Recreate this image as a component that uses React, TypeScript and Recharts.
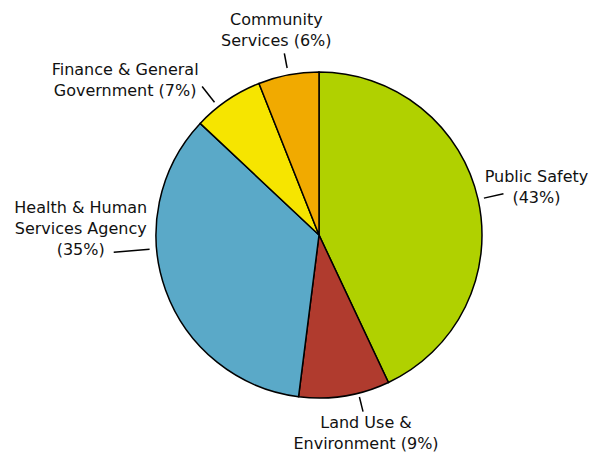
import React from "react"
import { PieChart, Pie, Cell } from "recharts"

const categories = [
  "Public Safety",
  "Land Use & Environment",
  "Health & Human Services Agency",
  "Finance & General Government",
  "Community Services",
]
const shares = [43, 9, 35, 7, 6]
const labelLines = [
  ["Public Safety", "(43%)"],
  ["Land Use &", "Environment (9%)"],
  ["Health & Human", "Services Agency", "(35%)"],
  ["Finance & General", "Government (7%)"],
  ["Community", "Services (6%)"],
]
const colors = ["#b0d100", "#b03b2e", "#5aa9c8", "#f6e500", "#f1aa00"]

// leader line: angle tweak from midAngle, inner/outer radius past the pie,
// then text offset from the outer end of the line
const labelLayout = [
  { da: 0, r1: 6, r2: 26, tx: 33, ty: -12 },
  { da: 5, r1: 4, r2: 19, tx: 3, ty: 16 },
  { da: -15, r1: 7, r2: 43, tx: -33, ty: -39 },
  { da: 4, r1: 6, r2: 26, tx: -77, ty: -11 },
  { da: 0, r1: 7, r2: 22, tx: -8, ty: -28 },
]

const data = categories.map((name, i) => ({ name, value: shares[i] }))

const RAD = Math.PI / 180

function renderLabel(props: any) {
  const { cx, cy, midAngle, outerRadius, index } = props
  const lay = labelLayout[index]
  const a = (midAngle + lay.da) * RAD
  const x1 = cx + Math.cos(-a) * (outerRadius + lay.r1)
  const y1 = cy + Math.sin(-a) * (outerRadius + lay.r1)
  const x2 = cx + Math.cos(-a) * (outerRadius + lay.r2)
  const y2 = cy + Math.sin(-a) * (outerRadius + lay.r2)
  const tx = x2 + lay.tx
  const ty = y2 + lay.ty
  return (
    <g key={`lbl-${index}`}>
      <line x1={x1} y1={y1} x2={x2} y2={y2} stroke="#000" strokeWidth={1.5} />
      <text
        x={tx}
        y={ty}
        textAnchor="middle"
        fill="#111"
        fontSize={16}
        fontFamily="DejaVu Sans, sans-serif"
      >
        {labelLines[index].map((t, j) => (
          <tspan key={j} x={tx} dy={j === 0 ? 0 : 21}>
            {t}
          </tspan>
        ))}
      </text>
    </g>
  )
}

export default function App() {
  return (
    <div style={{ position: "absolute", left: 0, top: 0, background: "#fff" }}>
      <PieChart
        width={602}
        height={455}
        margin={{ top: 0, right: 0, bottom: 0, left: 0 }}
      >
        <Pie
          data={data}
          dataKey="value"
          cx={319}
          cy={235}
          outerRadius={163}
          startAngle={90}
          endAngle={-270}
          labelLine={false}
          label={renderLabel}
          isAnimationActive={false}
        >
          {data.map((entry, index) => (
            <Cell
              key={`cell-${index}`}
              fill={colors[index]}
              stroke="#000"
              strokeWidth={1.5}
            />
          ))}
        </Pie>
      </PieChart>
    </div>
  )
}
